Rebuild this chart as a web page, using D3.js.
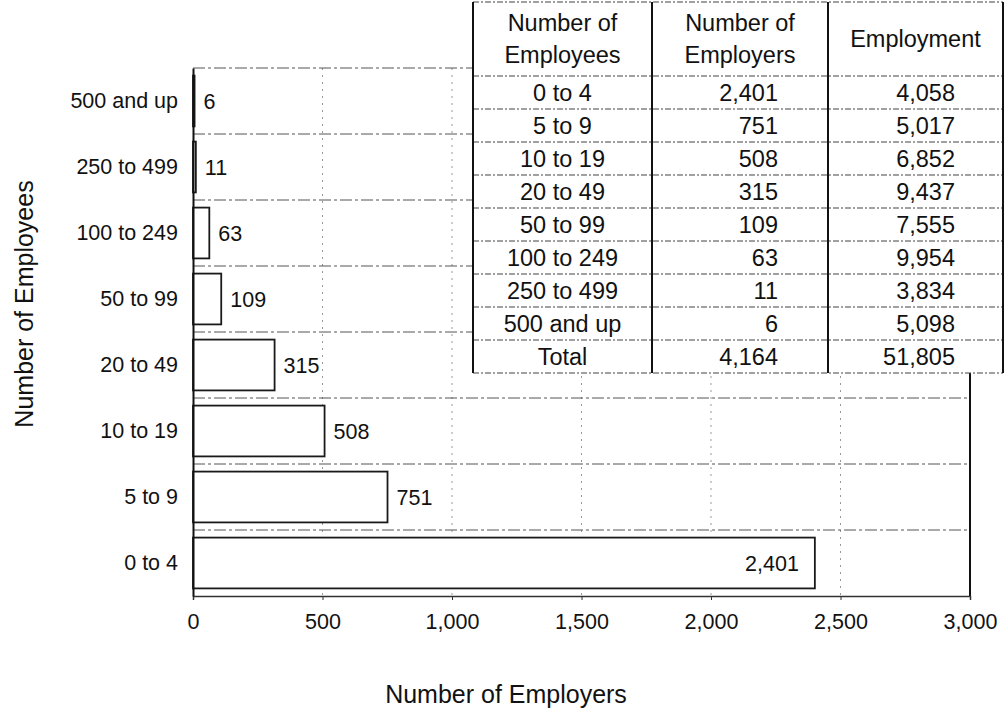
<!DOCTYPE html>
<html>
<head>
<meta charset="utf-8">
<script src="https://cdn.jsdelivr.net/npm/d3@7/dist/d3.min.js"></script>
<style>
  html, body { margin: 0; padding: 0; background: #fff; }
  svg { display: block; font-family: "Liberation Sans", Arial, sans-serif; }
</style>
</head>
<body>
<svg id="chart" width="1006" height="713"></svg>
<script>
// ---- data ----
const categories = ["0 to 4", "5 to 9", "10 to 19", "20 to 49", "50 to 99", "100 to 249", "250 to 499", "500 and up"];
const employers = [2401, 751, 508, 315, 109, 63, 11, 6];
const employment = [4058, 5017, 6852, 9437, 7555, 9954, 3834, 5098];
const xTicks = [0, 500, 1000, 1500, 2000, 2500, 3000];
const tableHeaders = [["Number of", "Employees"], ["Number of", "Employers"], ["Employment"]];
const totalLabel = "Total";

const svg = d3.select("#chart");
const fmt = d3.format(",");

const plot = { left: 193, right: 970, top: 68, bottom: 596 };

const x = d3.scaleLinear().domain([0, 3000]).range([plot.left, plot.right]);
const y = d3.scaleBand().domain(categories.slice().reverse())
  .range([plot.top, plot.bottom]).paddingInner(0.23).paddingOuter(0.115);

const data = categories.map((c, i) => ({ cat: c, val: employers[i], emp: employment[i] }));

// ---- gridlines ----
const g = svg.append("g");
g.selectAll("line.vg").data(xTicks.slice(1, -1)).enter().append("line")
  .attr("x1", d => x(d)).attr("x2", d => x(d))
  .attr("y1", plot.top).attr("y2", plot.bottom)
  .attr("stroke", "#999").attr("stroke-width", 1).attr("stroke-dasharray", "2,5");
const step = y.step();
const bounds = categories.slice().reverse().map(c => y(c) - y.paddingInner() * step / 2);
g.selectAll("line.hg").data(bounds).enter().append("line")
  .attr("x1", plot.left).attr("x2", plot.right)
  .attr("y1", d => d).attr("y2", d => d)
  .attr("stroke", "#555").attr("stroke-width", 1).attr("stroke-dasharray", "12,3,3,3");

g.append("line").attr("x1", plot.right).attr("x2", plot.right)
  .attr("y1", plot.top).attr("y2", plot.bottom)
  .attr("stroke", "#111").attr("stroke-width", 2);

// ---- bars ----
svg.append("g").selectAll("rect").data(data).enter().append("rect")
  .attr("x", x(0))
  .attr("y", d => y(d.cat))
  .attr("width", d => Math.max(1, x(d.val) - x(0)))
  .attr("height", y.bandwidth())
  .attr("fill", "#fff")
  .attr("stroke", "#1a1a1a")
  .attr("stroke-width", 1.8);

svg.append("g").selectAll("text").data(data).enter().append("text")
  .attr("x", d => d.val > 2000 ? x(d.val) - 16 : x(d.val) + 9)
  .attr("y", d => y(d.cat) + y.bandwidth() / 2)
  .attr("dy", "0.36em")
  .attr("text-anchor", d => d.val > 2000 ? "end" : "start")
  .attr("font-size", 21.5)
  .attr("fill", "#111")
  .text(d => fmt(d.val));

// ---- axes ----
const xAxis = d3.axisBottom(x).tickValues(xTicks).tickFormat(fmt).tickSize(4).tickPadding(14);
const xa = svg.append("g").attr("transform", `translate(0,${plot.bottom})`).call(xAxis);
xa.select(".domain").attr("stroke", "#333").attr("stroke-width", 1.5);
xa.selectAll(".tick line").attr("stroke", "#333");
xa.selectAll(".tick text").attr("font-size", 21.5).attr("fill", "#111")
  .attr("font-family", "Liberation Sans, Arial, sans-serif");

const yAxis = d3.axisLeft(y).tickSize(0).tickPadding(15);
const ya = svg.append("g").attr("transform", `translate(${plot.left},0)`).call(yAxis);
ya.select(".domain").attr("stroke", "#111").attr("stroke-width", 2);
ya.selectAll(".tick text").attr("font-size", 21.5).attr("fill", "#111")
  .attr("font-family", "Liberation Sans, Arial, sans-serif");

svg.append("text").attr("x", 506).attr("y", 703).attr("text-anchor", "middle")
  .attr("font-size", 25).attr("fill", "#111").text("Number of Employers");
svg.append("text").attr("transform", "translate(33,304) rotate(-90)")
  .attr("text-anchor", "middle").attr("font-size", 25).attr("fill", "#111")
  .text("Number of Employees");

// ---- table ----
const tbl = { top: 2, headerBottom: 76, rowH: 33 };
const colX = [473, 652, 828, 1003];
const rows = data.map(d => [d.cat, fmt(d.val), fmt(d.emp)]);
rows.push([totalLabel, fmt(d3.sum(employers)), fmt(d3.sum(employment))]);
const tblBottom = tbl.headerBottom + rows.length * tbl.rowH;

const t = svg.append("g");
t.append("rect").attr("x", colX[0]).attr("y", tbl.top)
  .attr("width", colX[3] - colX[0]).attr("height", tblBottom - tbl.top)
  .attr("fill", "#fff");

const hLines = [tbl.top, tbl.headerBottom].concat(rows.map((r, i) => tbl.headerBottom + (i + 1) * tbl.rowH));
t.selectAll("line.h").data(hLines).enter().append("line")
  .attr("x1", colX[0]).attr("x2", colX[3])
  .attr("y1", d => d).attr("y2", d => d)
  .attr("stroke", "#444").attr("stroke-width", 1.2).attr("stroke-dasharray", "6,2,2,2");
t.selectAll("line.v").data(colX).enter().append("line")
  .attr("x1", d => d).attr("x2", d => d)
  .attr("y1", tbl.top).attr("y2", tblBottom)
  .attr("stroke", "#111").attr("stroke-width", 2);

tableHeaders.forEach((lines, ci) => {
  const cx = (colX[ci] + colX[ci + 1]) / 2;
  const mid = (tbl.top + tbl.headerBottom) / 2;
  lines.forEach((ln, li) => {
    const yy = mid + (li - (lines.length - 1) / 2) * 32;
    t.append("text").attr("x", cx).attr("y", yy).attr("dy", "0.36em")
      .attr("text-anchor", "middle").attr("font-size", 23.5).attr("fill", "#111").text(ln);
  });
});

rows.forEach((r, ri) => {
  const yy = tbl.headerBottom + ri * tbl.rowH + tbl.rowH / 2;
  t.append("text").attr("x", (colX[0] + colX[1]) / 2).attr("y", yy).attr("dy", "0.36em")
    .attr("text-anchor", "middle").attr("font-size", 23.5).attr("fill", "#111").text(r[0]);
  t.append("text").attr("x", 778).attr("y", yy).attr("dy", "0.36em")
    .attr("text-anchor", "end").attr("font-size", 23.5).attr("fill", "#111").text(r[1]);
  t.append("text").attr("x", 955).attr("y", yy).attr("dy", "0.36em")
    .attr("text-anchor", "end").attr("font-size", 23.5).attr("fill", "#111").text(r[2]);
});
</script>
</body>
</html>
